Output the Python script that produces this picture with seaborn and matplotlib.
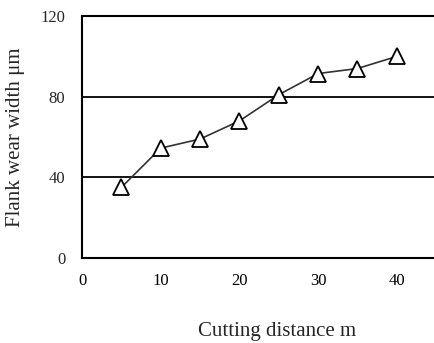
import numpy as np
import pandas as pd
import matplotlib
matplotlib.use('Agg')
import matplotlib.pyplot as plt
import seaborn as sns

# data
distance = [5, 10, 15, 20, 25, 30, 35, 40]
wear = [35, 54.5, 59, 68, 81, 91.5, 94, 100]
x_ticks = [0, 10, 20, 30, 40]
y_ticks = [0, 40, 80, 120]

sns.set_style('white')
plt.rcParams['font.family'] = ['Liberation Serif', 'DejaVu Serif']

df = pd.DataFrame({'distance': distance, 'wear': wear})

fig = plt.figure(figsize=(4.34, 3.43), dpi=100)
ax = fig.add_axes([0.189, 0.248, 0.816, 0.705])

sns.lineplot(data=df, x='distance', y='wear', ax=ax, color='#333333', lw=1.2,
             marker='^', markersize=12, markerfacecolor='white',
             markeredgecolor='black', markeredgewidth=1.3)

ax.set_xlim(0, 45)
ax.set_ylim(0, 120)
ax.set_xticks(x_ticks)
ax.set_xticks(np.arange(5, 45, 5), minor=True)
ax.set_yticks(y_ticks)
ax.tick_params(axis='x', which='both', direction='in', length=6, width=1.3,
               colors='black', labelsize=12, pad=11)
ax.tick_params(axis='x', which='major', length=0)
ax.tick_params(axis='y', length=0, labelsize=12, pad=12)

# horizontal grid lines at 40 and 80
for y in [40, 80]:
    ax.axhline(y, color='black', lw=1.3, zorder=0)

for side in ['left', 'bottom', 'top']:
    ax.spines[side].set_color('black')
    ax.spines[side].set_linewidth(1.5)
ax.spines['right'].set_visible(False)

ax.set_xlabel('Cutting distance m', fontsize=15)
ax.set_ylabel('Flank wear width μm', fontsize=15)
ax.xaxis.set_label_coords(0.55, -0.265)
ax.yaxis.set_label_coords(-0.16, 0.5)

fig.savefig('out.png', dpi=100)
